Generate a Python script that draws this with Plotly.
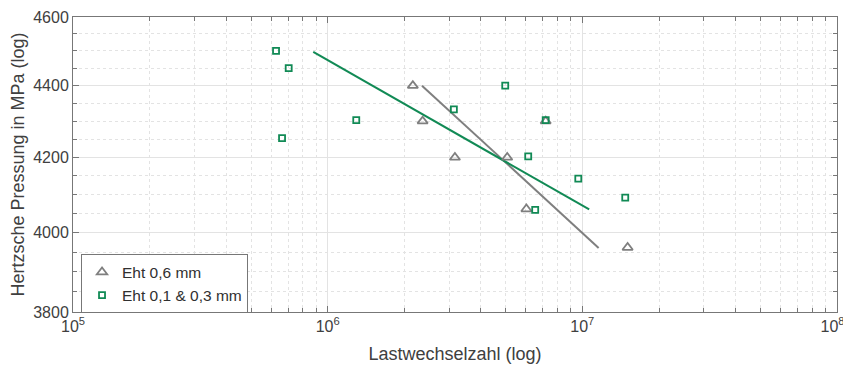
import plotly.graph_objects as go
import numpy as np

# Data
eht06_x = [2.16e6, 2.36e6, 3.16e6, 5.07e6, 7.18e6, 6.03e6, 1.506e7]
eht06_y = [4400, 4300, 4200, 4200, 4300, 4062, 3962]

eht013_x = [6.27e5, 7.03e5, 6.62e5, 1.295e6, 3.13e6, 4.98e6, 7.18e6, 6.13e6, 9.64e6, 1.474e7, 6.53e6]
eht013_y = [4500, 4450, 4253, 4303, 4333, 4400, 4303, 4203, 4143, 4092, 4060]

fit06_x = [2.346e6, 1.159e7]
fit06_y = [4400, 3961]
fit013_x = [8.78e5, 1.064e7]
fit013_y = [4497, 4061]

x_ticks = [1e5, 1e6, 1e7, 1e8]
x_ticktext = ["10<sup>5</sup>", "10<sup>6</sup>", "10<sup>7</sup>", "10<sup>8</sup>&nbsp;&nbsp;"]
y_ticks = [3800, 4000, 4200, 4400, 4600]
y_minor = [3850, 3900, 3950, 4050, 4100, 4150, 4250, 4300, 4350, 4450, 4500, 4550]
x_minor = [m * 10**d for d in range(5, 8) for m in range(2, 10)]

GREEN = "#118a55"
GRAY = "#7f7f7f"
FONT = "Liberation Sans, Arial"

fig = go.Figure()
fig.add_trace(go.Scatter(x=fit06_x, y=fit06_y, mode="lines", line=dict(color=GRAY, width=2), showlegend=False))
fig.add_trace(go.Scatter(x=fit013_x, y=fit013_y, mode="lines", line=dict(color=GREEN, width=2), showlegend=False))
fig.add_trace(go.Scatter(x=eht06_x, y=eht06_y, mode="markers", name="Eht 0,6 mm",
                         marker=dict(symbol="triangle-up-open", size=9, color=GRAY, line=dict(width=1.8, color=GRAY))))
fig.add_trace(go.Scatter(x=eht013_x, y=eht013_y, mode="markers", name="Eht 0,1 & 0,3 mm",
                         marker=dict(symbol="square-open", size=6, color=GREEN, line=dict(width=1.8, color=GREEN))))

axcommon = dict(showline=True, linecolor="#777777", linewidth=1, mirror="allticks",
                ticks="inside", tickcolor="#777777", ticklen=6, automargin=False,
                gridcolor="#e3e3e3", gridwidth=1, zeroline=False, ticklabeloverflow="allow",
                tickfont=dict(family=FONT, size=16, color="#404040"),
                title_font=dict(family=FONT, size=18, color="#404040"))

fig.update_xaxes(type="log", range=[5, 8], tickvals=x_ticks, ticktext=x_ticktext,
                 title_text="Lastwechselzahl (log)", title_standoff=13,
                 minor=dict(tickvals=x_minor, ticks="inside", ticklen=4, tickcolor="#777777",
                            showgrid=True, gridcolor="#e3e3e3", griddash="dot"),
                 **axcommon)
fig.update_yaxes(type="log", range=[np.log10(3800), np.log10(4600)], tickvals=y_ticks,
                 ticktext=[str(v) for v in y_ticks],
                 title_text="Hertzsche Pressung in MPa (log)", title_standoff=8,
                 minor=dict(tickvals=y_minor, ticks="inside", ticklen=4, tickcolor="#777777",
                            showgrid=True, gridcolor="#e3e3e3", griddash="dot"),
                 **axcommon)

# page body has an 8px margin; size the figure so the plot area lands where the reference has it
fig.update_layout(width=843, height=358, margin=dict(l=65, r=14, t=9, b=54),
                  plot_bgcolor="white", paper_bgcolor="white",
                  font=dict(family=FONT, color="#404040"),
                  legend=dict(x=0.0105, y=0.095, xanchor="left", yanchor="middle",
                              bgcolor="white", bordercolor="#777777", borderwidth=1,
                              font=dict(family=FONT, size=15.5, color="#303030"), tracegroupgap=0))

fig.write_html("out.html")
